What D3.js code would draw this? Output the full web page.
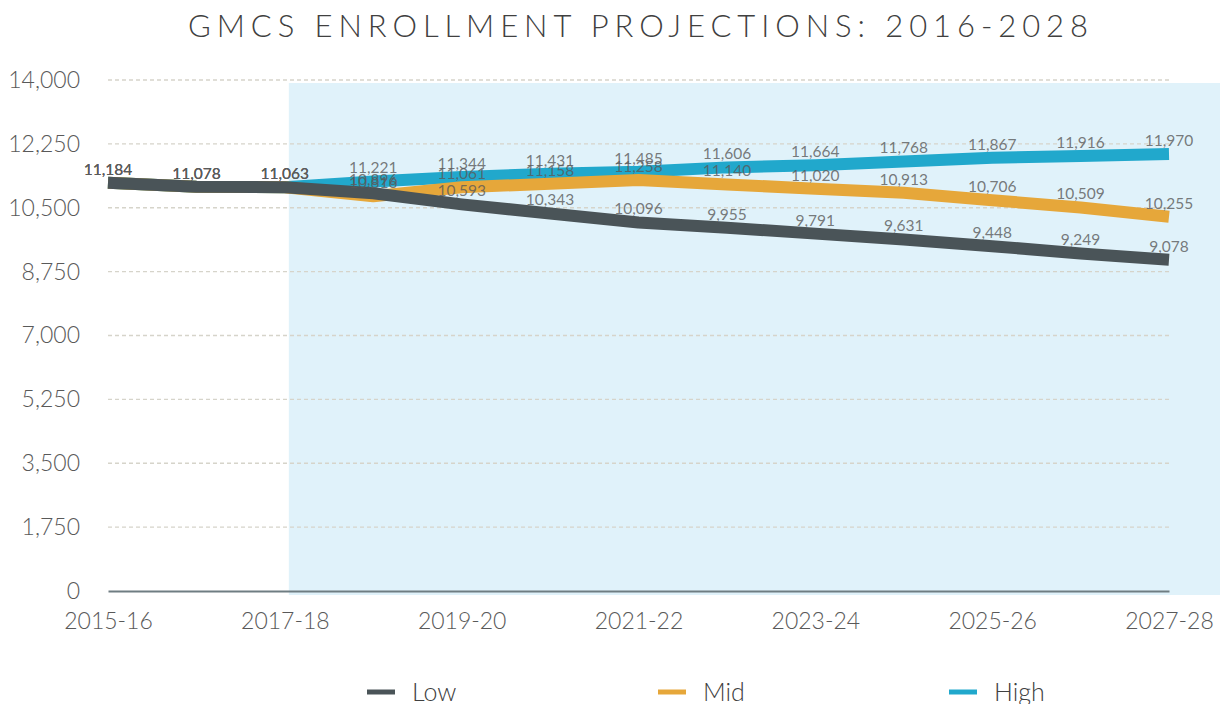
<!DOCTYPE html>
<html>
<head>
<meta charset="utf-8">
<script src="https://cdnjs.cloudflare.com/ajax/libs/d3/7.8.5/d3.min.js"></script>
<style>
  body { margin: 0; background: #fff; }
  svg { display: block; font-family: Lato, "Open Sans", sans-serif; }
</style>
</head>
<body>
<svg id="chart" width="1220" height="704"></svg>
<script>
const years = ["2015-16", "2016-17", "2017-18", "2018-19", "2019-20", "2020-21", "2021-22",
               "2022-23", "2023-24", "2024-25", "2025-26", "2026-27", "2027-28"];
const lowValues  = [11184, 11078, 11063, 10896, 10593, 10343, 10096, 9955, 9791, 9631, 9448, 9249, 9078];
const midValues  = [11184, 11078, 11063, 10816, 11061, 11158, 11258, 11140, 11020, 10913, 10706, 10509, 10255];
const highValues = [11184, 11078, 11063, 11221, 11344, 11431, 11485, 11606, 11664, 11768, 11867, 11916, 11970];
const xTickLabels = ["2015-16", "2017-18", "2019-20", "2021-22", "2023-24", "2025-26", "2027-28"];
const yTicks = [0, 1750, 3500, 5250, 7000, 8750, 10500, 12250, 14000];
const projectionStart = "2017-18";

// drawn back to front, Low ends up on top
const series = [
    { name: "High", values: highValues, color: "#21a8cc" },
    { name: "Mid",  values: midValues,  color: "#e6a73a" },
    { name: "Low",  values: lowValues,  color: "#4a5458" }
];
const legendOrder = ["Low", "Mid", "High"];

const svg = d3.select("#chart");
const fmt = d3.format(",");

const x = d3.scalePoint().domain(years).range([108, 1169]);
const y = d3.scaleLinear().domain([0, 14000]).range([591, 80]);

// title
svg.append("text")
    .attr("x", 188)
    .attr("y", 37)
    .attr("textLength", 900)
    .attr("lengthAdjust", "spacing")
    .attr("font-size", 31)
    .attr("font-weight", 300)
    .attr("fill", "#404040")
    .text("GMCS ENROLLMENT PROJECTIONS: 2016-2028");

// projection shading
svg.append("rect")
    .attr("x", x(projectionStart) + 4)
    .attr("y", y(14000) + 3)
    .attr("width", 1220 - x(projectionStart) - 4)
    .attr("height", y(0) - y(14000) + 1)
    .attr("fill", "#e0f2fa");

// gridlines
svg.append("g")
    .selectAll("line")
    .data(yTicks.filter(d => d > 0))
    .enter().append("line")
    .attr("x1", x.range()[0])
    .attr("x2", x.range()[1])
    .attr("y1", d => y(d))
    .attr("y2", d => y(d))
    .attr("stroke", "#d6d4ca")
    .attr("stroke-width", 1.3)
    .attr("stroke-dasharray", "4,3");

// y axis labels
const yAxis = svg.append("g")
    .attr("transform", "translate(80,0)")
    .call(d3.axisLeft(y).tickValues(yTicks).tickFormat(fmt).tickSize(0).tickPadding(0));
yAxis.select(".domain").remove();
yAxis.selectAll("text")
    .attr("font-family", "Lato, sans-serif")
    .attr("font-size", 23)
    .attr("font-weight", 300)
    .attr("fill", "#595959");

// x axis
const xAxis = svg.append("g")
    .attr("transform", `translate(0,${y(0)})`)
    .call(d3.axisBottom(x).tickValues(xTickLabels).tickSize(0).tickPadding(22));
xAxis.select(".domain")
    .attr("stroke", "#6f7d82")
    .attr("stroke-width", 2);
xAxis.selectAll("text")
    .attr("font-family", "Lato, sans-serif")
    .attr("font-size", 23)
    .attr("font-weight", 300)
    .attr("fill", "#595959");

// lines
const line = d3.line()
    .x((d, i) => x(years[i]))
    .y(d => y(d));

svg.append("g")
    .selectAll("path")
    .data(series)
    .enter().append("path")
    .attr("d", d => line(d.values))
    .attr("fill", "none")
    .attr("stroke", d => d.color)
    .attr("stroke-width", 12)
    .attr("stroke-linejoin", "round");

// data labels
const labels = svg.append("g");
series.forEach(s => {
    labels.selectAll(null)
        .data(s.values)
        .enter().append("text")
        .attr("x", (d, i) => x(years[i]))
        .attr("y", d => y(d) - 8)
        .attr("text-anchor", "middle")
        .attr("font-size", 15.5)
        .attr("fill", "#595959")
        .attr("fill-opacity", 0.8)
        .text(d => fmt(d));
});

// legend
const legend = svg.append("g")
    .selectAll("g")
    .data(legendOrder.map(n => series.find(s => s.name === n)))
    .enter().append("g")
    .attr("transform", (d, i) => `translate(${367 + i * 291},692)`);

legend.append("line")
    .attr("x1", 0)
    .attr("x2", 28)
    .attr("stroke", d => d.color)
    .attr("stroke-width", 5);

legend.append("text")
    .attr("x", 45)
    .attr("y", 9)
    .attr("font-size", 25)
    .attr("font-weight", 300)
    .attr("fill", "#404040")
    .text(d => d.name);
</script>
</body>
</html>
